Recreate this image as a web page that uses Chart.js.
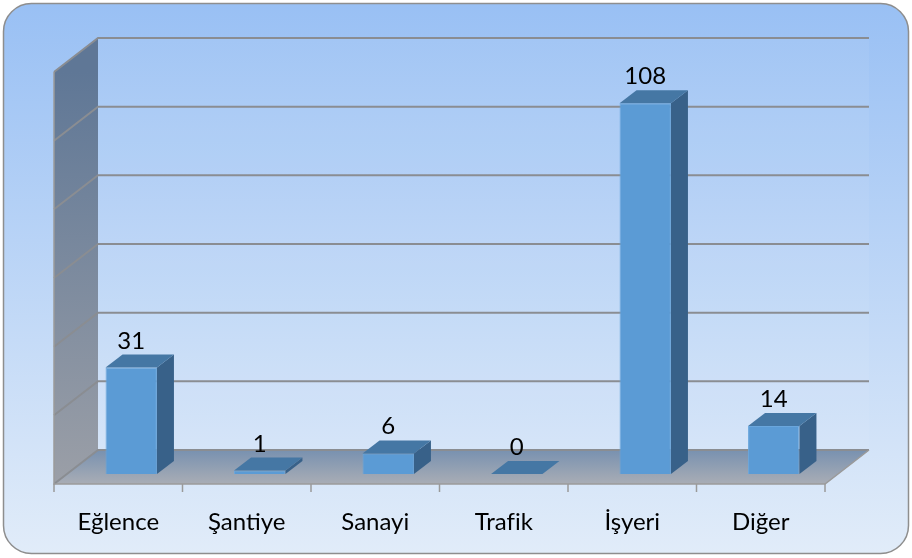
<!DOCTYPE html>
<html lang="tr">
<head>
  <meta charset="UTF-8">
  <title>Kategori Dağılımı</title>
  <script src="https://cdn.jsdelivr.net/npm/chart.js"></script>
  <style>
    html, body {
      margin: 0;
      padding: 0;
      background: #ffffff;
    }

    .wrap {
      width: 912px;
      height: 558px;
    }
  </style>
</head>
<body>

  <div class="wrap"><canvas id="barChart"></canvas></div>

  <script>
    const categories = ['Eğlence', 'Şantiye', 'Sanayi', 'Trafik', 'İşyeri', 'Diğer'];
    const counts = [31, 1, 6, 0, 108, 14];
    const gridValues = [0, 20, 40, 60, 80, 100, 120];

    // oblique 3D offsets (px)
    const DEPTH_X = 44, DEPTH_Y = -34;      // floor / wall depth
    const BAR_OFF_X = 13, BAR_OFF_Y = -10;  // bar front plane
    const BAR_DX = 17, BAR_DY = -13;        // bar depth

    const FONT = "'Lato', 'Open Sans', sans-serif";

    function poly(ctx, pts) {
      ctx.beginPath();
      ctx.moveTo(pts[0][0], pts[0][1]);
      for (let i = 1; i < pts.length; i++) ctx.lineTo(pts[i][0], pts[i][1]);
      ctx.closePath();
    }

    const scene3d = {
      id: 'scene3d',
      beforeDraw(chart) {
        const ctx = chart.ctx;
        ctx.save();
        const g = ctx.createLinearGradient(0, 3, 0, 554);
        g.addColorStop(0, '#99c0f4');
        g.addColorStop(1, '#e1ecf9');
        ctx.beginPath();
        ctx.roundRect(3.5, 3.5, 905, 550, 28);
        ctx.fillStyle = g;
        ctx.fill();
        ctx.strokeStyle = '#8e8e8e';
        ctx.lineWidth = 1.5;
        ctx.stroke();
        ctx.restore();
      },
      beforeDatasetsDraw(chart) {
        const ctx = chart.ctx;
        const x = chart.scales.x, y = chart.scales.y;
        const left = x.left, right = x.right, bottom = y.bottom;
        const top = y.getPixelForValue(gridValues[gridValues.length - 1]);

        ctx.save();
        // back wall
        ctx.fillStyle = 'rgba(255,255,255,0.06)';
        ctx.fillRect(left + DEPTH_X, top + DEPTH_Y, right - left, bottom - top);

        // left wall
        const lw = ctx.createLinearGradient(0, top, 0, bottom);
        lw.addColorStop(0, '#5f7796');
        lw.addColorStop(1, '#9b9fa7');
        poly(ctx, [[left, top], [left + DEPTH_X, top + DEPTH_Y], [left + DEPTH_X, bottom + DEPTH_Y], [left, bottom]]);
        ctx.fillStyle = lw;
        ctx.fill();

        // floor
        const fl = ctx.createLinearGradient(0, bottom + DEPTH_Y, 0, bottom);
        fl.addColorStop(0, '#7891b0');
        fl.addColorStop(1, '#a9adb5');
        poly(ctx, [[left, bottom], [right, bottom], [right + DEPTH_X, bottom + DEPTH_Y], [left + DEPTH_X, bottom + DEPTH_Y]]);
        ctx.fillStyle = fl;
        ctx.fill();

        // gridlines on left + back wall
        ctx.strokeStyle = '#8a8d92';
        ctx.lineWidth = 2;
        gridValues.forEach(v => {
          const py = y.getPixelForValue(v);
          ctx.beginPath();
          ctx.moveTo(left, py);
          ctx.lineTo(left + DEPTH_X, py + DEPTH_Y);
          ctx.lineTo(right + DEPTH_X, py + DEPTH_Y);
          ctx.stroke();
        });

        // floor edges + wall front edge
        ctx.lineWidth = 1.5;
        ctx.strokeStyle = '#9a9a9a';
        ctx.beginPath();
        ctx.moveTo(left, top);
        ctx.lineTo(left, bottom);
        ctx.lineTo(right, bottom);
        ctx.lineTo(right + DEPTH_X, bottom + DEPTH_Y);
        ctx.stroke();

        // category tick marks
        const n = categories.length;
        for (let i = 0; i <= n; i++) {
          const tx = left + i * (right - left) / n;
          ctx.beginPath();
          ctx.moveTo(tx, bottom);
          ctx.lineTo(tx, bottom + 8);
          ctx.stroke();
        }
        ctx.restore();

        // bars sit a little behind the front edge
        ctx.save();
        ctx.translate(BAR_OFF_X, BAR_OFF_Y);
      },
      afterDatasetsDraw(chart) {
        const ctx = chart.ctx;
        const meta = chart.getDatasetMeta(0);
        meta.data.forEach((bar, i) => {
          const p = bar.getProps(['x', 'y', 'base', 'width'], true);
          const x1 = p.x - p.width / 2, x2 = p.x + p.width / 2;

          // side face
          poly(ctx, [[x2, p.y], [x2 + BAR_DX, p.y + BAR_DY], [x2 + BAR_DX, p.base + BAR_DY], [x2, p.base]]);
          ctx.fillStyle = '#386189';
          ctx.fill();

          // top face
          poly(ctx, [[x1, p.y], [x2, p.y], [x2 + BAR_DX, p.y + BAR_DY], [x1 + BAR_DX, p.y + BAR_DY]]);
          ctx.fillStyle = '#4577a4';
          ctx.fill();

          // value label
          ctx.fillStyle = '#000000';
          ctx.font = '24px ' + FONT;
          ctx.textAlign = 'center';
          ctx.textBaseline = 'alphabetic';
          ctx.fillText(String(counts[i]), p.x, p.y + BAR_DY - 6);
        });
        ctx.restore();
      }
    };

    new Chart(document.getElementById('barChart'), {
      type: 'bar',
      data: {
        labels: categories,
        datasets: [{
          label: 'Sayı',
          data: counts,
          backgroundColor: '#5b9bd5',
          borderColor: '#6aa6dc',
          borderWidth: 1,
          barPercentage: 0.4,
          categoryPercentage: 1,
          clip: false
        }]
      },
      options: {
        responsive: true,
        maintainAspectRatio: false,
        animation: false,
        layout: {
          padding: { left: 54, right: 87, top: 72, bottom: 0 }
        },
        plugins: {
          legend: { display: false },
          tooltip: { enabled: false }
        },
        scales: {
          x: {
            grid: { display: false },
            border: { display: false },
            ticks: {
              color: '#000000',
              padding: 16,
              font: { family: FONT, size: 24 }
            },
            afterFit(scale) { scale.height = 74; }
          },
          y: {
            display: false,
            min: 0,
            max: 120
          }
        }
      },
      plugins: [scene3d]
    });
  </script>

</body>
</html>
